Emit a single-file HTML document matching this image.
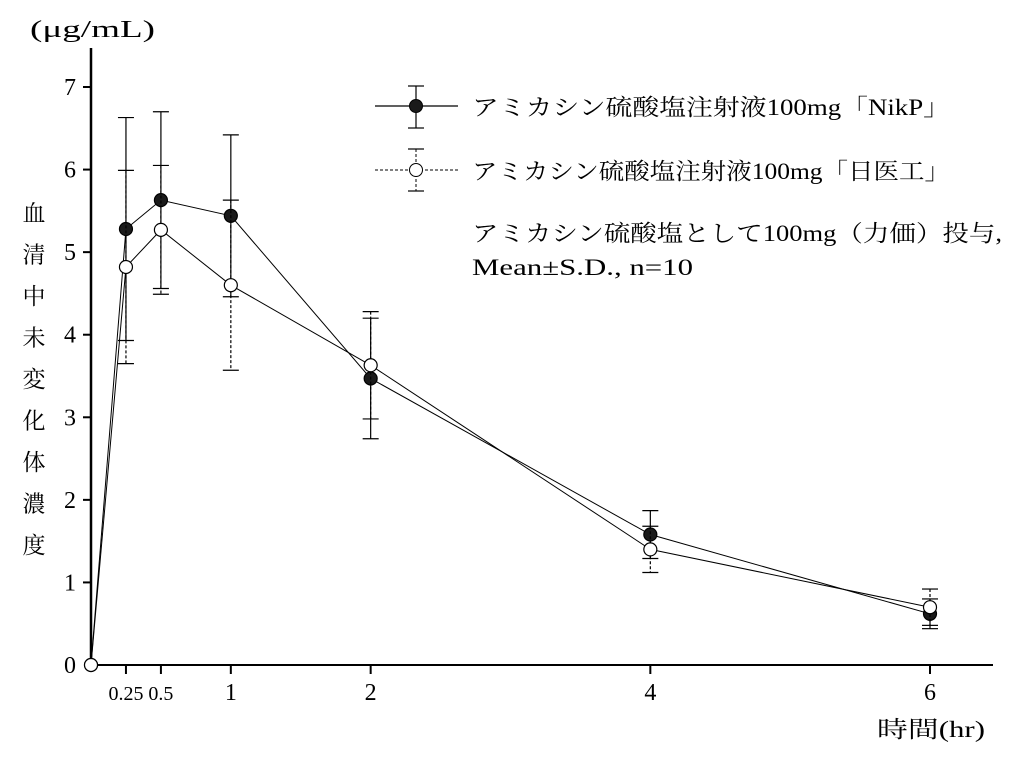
<!DOCTYPE html>
<html><head><meta charset="utf-8">
<style>
html,body{margin:0;padding:0;background:#fff;}
svg{display:block;font-family:"Liberation Serif","Noto Serif CJK SC",serif;}
</style></head>
<body>
<svg id="chart" width="1014" height="758" viewBox="0 0 1014 758" xmlns="http://www.w3.org/2000/svg">
<text x="30" y="37" font-size="24" textLength="125" lengthAdjust="spacingAndGlyphs">(μg/mL)</text>
<g id="ytitle" font-size="23" text-anchor="middle"></g>
<text x="877" y="737" font-size="23" textLength="108" lengthAdjust="spacingAndGlyphs">時間(hr)</text>
<g id="axes"></g>
<g id="plot"></g>
<g font-size="23">
  <g>
    <line x1="375" y1="106" x2="458" y2="106" stroke="#000" stroke-width="1.2"/>
    <line x1="416" y1="86" x2="416" y2="128" stroke="#000" stroke-width="1.2"/>
    <line x1="408" y1="86" x2="424" y2="86" stroke="#000" stroke-width="1.2"/>
    <line x1="408" y1="128" x2="424" y2="128" stroke="#000" stroke-width="1.2"/>
    <circle cx="416" cy="106" r="6.5" fill="#1a1a1a" stroke="#000"/>
    <text x="472" y="115" textLength="478" lengthAdjust="spacingAndGlyphs">アミカシン硫酸塩注射液100mg「NikP」</text>
  </g>
  <g>
    <line x1="375" y1="170" x2="458" y2="170" stroke="#000" stroke-width="1" stroke-dasharray="3,2"/>
    <line x1="416" y1="149" x2="416" y2="191" stroke="#000" stroke-width="1" stroke-dasharray="3,2"/>
    <line x1="408" y1="149" x2="424" y2="149" stroke="#000" stroke-width="1.2"/>
    <line x1="408" y1="191" x2="424" y2="191" stroke="#000" stroke-width="1.2"/>
    <circle cx="416" cy="170" r="6.5" fill="#fff" stroke="#000"/>
    <text x="472" y="179" textLength="478" lengthAdjust="spacingAndGlyphs">アミカシン硫酸塩注射液100mg「日医工」</text>
  </g>
  <text x="472" y="241" textLength="530" lengthAdjust="spacingAndGlyphs">アミカシン硫酸塩として100mg（力価）投与,</text>
  <text x="472" y="275" textLength="221" lengthAdjust="spacingAndGlyphs">Mean±S.D., n=10</text>
</g>
</svg>
<script>
const times = [0, 0.25, 0.5, 1, 2, 4, 6];
const nikpMean = [0, 5.28, 5.63, 5.44, 3.47, 1.58, 0.62];
const nikpSD = [0, 1.35, 1.07, 0.98, 0.73, 0.29, 0.18];
const nichiikoMean = [0, 4.82, 5.27, 4.60, 3.63, 1.40, 0.70];
const nichiikoSD = [0, 1.17, 0.78, 1.03, 0.65, 0.28, 0.22];
const xTicks = [0.25, 0.5, 1, 2, 4, 6];
const xTickLabels = ["0.25", "0.5", "1", "2", "4", "6"];
const yTicks = [0, 1, 2, 3, 4, 5, 6, 7];
const yTitleChars = ["血","清","中","未","変","化","体","濃","度"];

const NS = "http://www.w3.org/2000/svg";
const X0 = 91, XS = (930 - 91) / 6, Y0 = 665, YS = (665 - 87) / 7;
const xp = v => X0 + v * XS;
const yp = v => Y0 - v * YS;
function mk(tag, attrs, parent, text) {
  const e = document.createElementNS(NS, tag);
  for (const k in attrs) e.setAttribute(k, attrs[k]);
  if (text !== undefined) e.textContent = text;
  parent.appendChild(e);
  return e;
}
const axes = document.getElementById('axes');
const plot = document.getElementById('plot');
const yt = document.getElementById('ytitle');

yTitleChars.forEach((c, i) => {
  const t = mk('text', {x: 34, y: 221 + i * 41.5}, yt, c);
  
  
});

let l = mk('line', {x1: X0, y1: 48, x2: X0, y2: Y0 + 1, stroke: '#000', 'stroke-width': 2.5}, axes);


l = mk('line', {x1: X0 - 1, y1: Y0, x2: 993, y2: Y0, stroke: '#000', 'stroke-width': 2}, axes);



yTicks.forEach(v => {
  if (v > 0) {
    const tk = mk('line', {x1: X0 - 8, y1: yp(v), x2: X0, y2: yp(v), stroke: '#000', 'stroke-width': 2}, axes);
    
    
  }
  const t = mk('text', {x: 70, y: yp(v) + 8, 'font-size': 24, 'text-anchor': 'middle'}, axes, String(v));
  
  
});
xTicks.forEach((v, i) => {
  const tk = mk('line', {x1: xp(v), y1: Y0, x2: xp(v), y2: Y0 + 9, stroke: '#000', 'stroke-width': 2}, axes);
  
  
  const fs = (v < 1) ? 20 : 24;
  const t = mk('text', {x: xp(v), y: 700, 'font-size': fs, 'text-anchor': 'middle'}, axes, xTickLabels[i]);
  
  
});

function series(mean, sd, filled, name) {
  const g = mk('g', {}, plot);
  
  
  const dash = filled ? null : '3,2';
  times.forEach((t, i) => {
    if (sd[i] <= 0) return;
    const x = xp(t), y1 = yp(mean[i] + sd[i]), y2 = yp(mean[i] - sd[i]);
    const a = {x1: x, y1: y1, x2: x, y2: y2, stroke: '#000', 'stroke-width': 1.2};
    if (dash) a['stroke-dasharray'] = dash;
    const e = mk('line', a, g);
    
    
    [y1, y2].forEach(yy => {
      const c = mk('line', {x1: x - 8, y1: yy, x2: x + 8, y2: yy, stroke: '#000', 'stroke-width': 1.2}, g);
      
      
    });
  });
  const pts = times.map((t, i) => xp(t) + ',' + yp(mean[i])).join(' ');
  const pl = mk('polyline', {points: pts, fill: 'none', stroke: '#000', 'stroke-width': 1}, g);
  
  
  return g;
}
const gN = series(nikpMean, nikpSD, true, 'series-nikp');
const gO = series(nichiikoMean, nichiikoSD, false, 'series-nichiiko');
function markers(mean, filled, g) {
  times.forEach((t, i) => {
    const c = mk('circle', {cx: xp(t), cy: yp(mean[i]), r: 6.5, fill: filled ? '#1a1a1a' : '#fff', stroke: '#000', 'stroke-width': 1.2}, g);
    
    
  });
}
markers(nikpMean, true, gN);
markers(nichiikoMean, false, gO);
</script>
</body></html>
